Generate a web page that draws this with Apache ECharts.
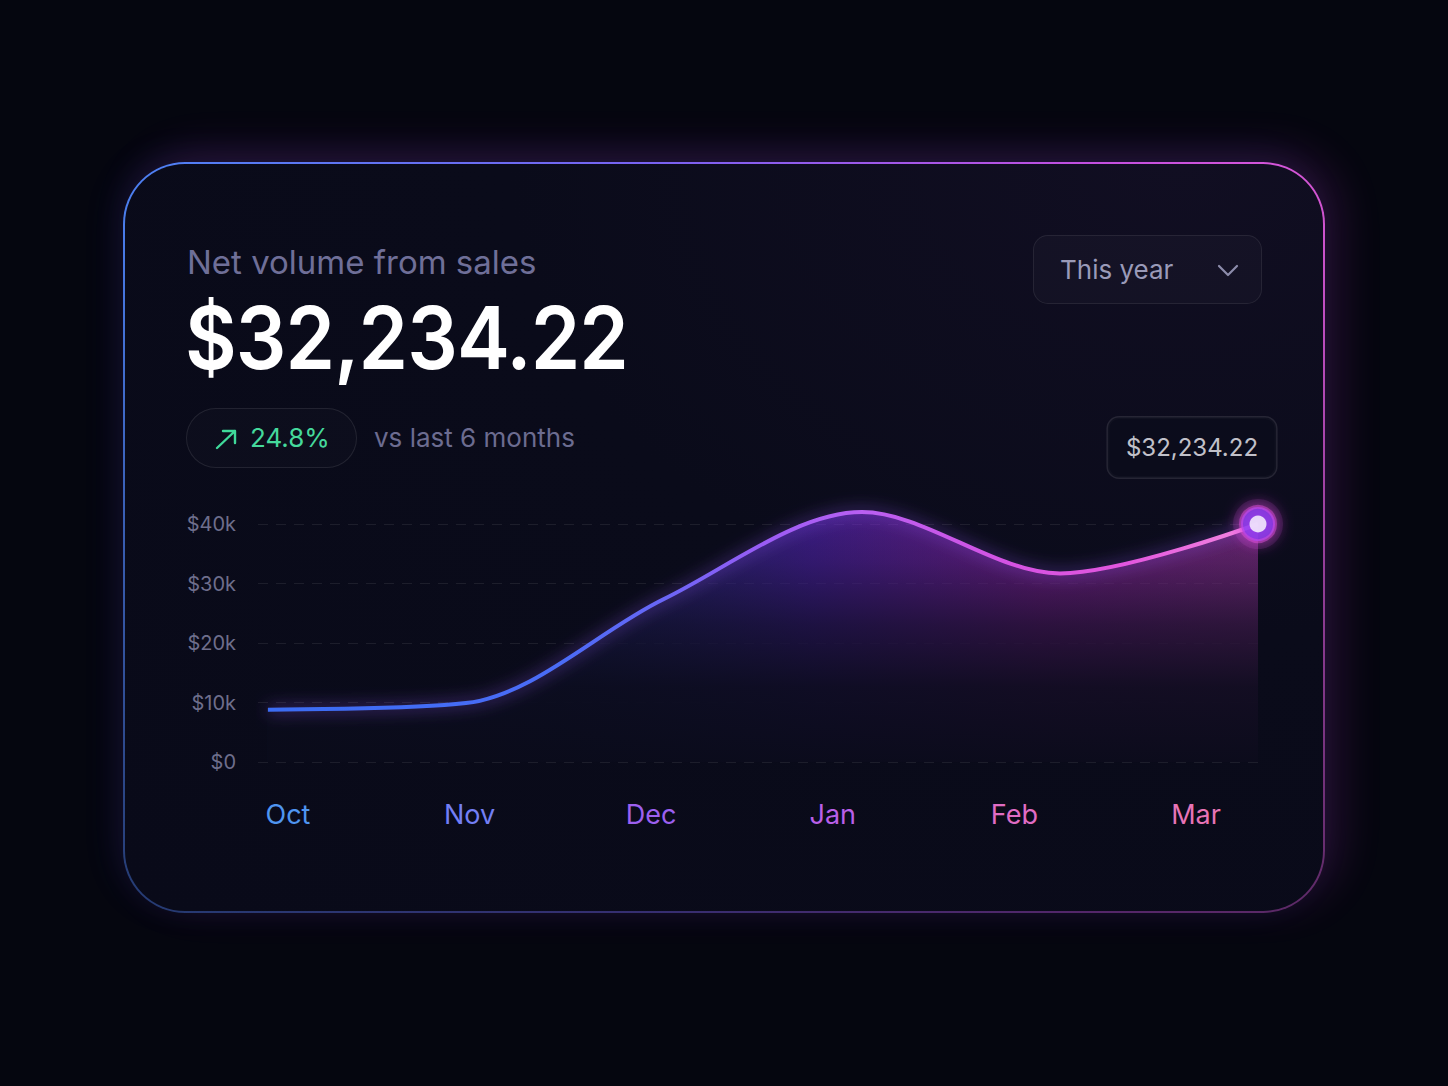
<!DOCTYPE html>
<html>
<head>
<meta charset="utf-8">
<title>Net volume from sales</title>
<script src="https://cdn.jsdelivr.net/npm/echarts@6/dist/echarts.min.js"></script>
<style>
  html, body { margin: 0; padding: 0; background: #05060f; }
  body { width: 1448px; height: 1086px; position: relative; overflow: hidden; font-family: Inter, "Noto Sans", sans-serif; }
  .card {
    position: absolute; left: 123px; top: 162px; width: 1202px; height: 751px;
    border-radius: 62px; padding: 2px; box-sizing: border-box;
    background:
      linear-gradient(180deg, rgba(10,11,26,0) 0%, rgba(10,11,26,0.25) 40%, rgba(10,11,26,0.6) 100%),
      linear-gradient(90deg, #4d82f5 0%, #7a62f2 45%, #c24fe0 80%, #d957d8 100%);
    box-shadow: -8px -6px 36px rgba(70,110,255,0.08), 14px -10px 44px rgba(220,70,230,0.16);
  }
  .card-inner {
    width: 100%; height: 100%; border-radius: 60px;
    background: radial-gradient(ellipse at 88% 0%, #110e22 0%, #0a0b1a 45%, #090a19 100%);
  }
  .txt { position: absolute; white-space: nowrap; }
  #chart { position: absolute; left: 0; top: 0; width: 1448px; height: 1086px; }
</style>
</head>
<body>
<div class="card"><div class="card-inner"></div></div>

<div class="txt" style="left:187px; top:246px; font-size:33px; line-height:33px; color:#6f6f98;">Net volume from sales</div>
<div class="txt" style="left:185px; top:295px; font-size:86px; line-height:86px; font-weight:600; color:#ffffff; letter-spacing:-1px; transform:scaleX(0.925); transform-origin:left center;">$32,234.22</div>

<div style="position:absolute; left:186px; top:408px; width:171px; height:60px; box-sizing:border-box; border:1.5px solid rgba(255,255,255,0.09); border-radius:30px; background:rgba(255,255,255,0.015);"></div>
<svg style="position:absolute; left:212px; top:426px;" width="28" height="26" viewBox="0 0 28 26">
  <path d="M5 22 L23 5 M11 5 L23 5 L23 17" fill="none" stroke="#3fd99a" stroke-width="2.4" stroke-linecap="round" stroke-linejoin="round"/>
</svg>
<div class="txt" style="left:250px; top:425px; font-size:26px; line-height:26px; color:#45d99c;">24.8%</div>
<div class="txt" style="left:374px; top:425px; font-size:26px; line-height:26px; color:#6c6c90;">vs last 6 months</div>

<div style="position:absolute; left:1033px; top:235px; width:229px; height:69px; box-sizing:border-box; border:1.5px solid rgba(255,255,255,0.08); border-radius:15px; background:rgba(255,255,255,0.025);"></div>
<div class="txt" style="left:1060px; top:257px; font-size:26px; line-height:26px; color:#9a9ab8;">This year</div>
<svg style="position:absolute; left:1215px; top:260px;" width="26" height="20" viewBox="0 0 26 20">
  <path d="M4 6 L13 15 L22 6" fill="none" stroke="#8c8cab" stroke-width="2.2" stroke-linecap="round" stroke-linejoin="round"/>
</svg>

<div id="chart"></div>

<script>
const months = ['Oct', 'Nov', 'Dec', 'Jan', 'Feb', 'Mar'];
const volume = [8800, 9900, 27400, 42000, 31700, 40000];
const yTicks = [0, 10000, 20000, 30000, 40000];
const highlightLabel = '$32,234.22';

const monthColors = ['#4f95f0', '#737ff4', '#9c60f0', '#b95fe8', '#e06cc4', '#e874b6'];

const points = months.map((m, i) => [i, volume[i]]);
const lastIndex = months.length - 1;
const lastPoint = [[lastIndex, volume[lastIndex]]];

const chart = echarts.init(document.getElementById('chart'), null, { renderer: 'svg' });

function grad(x2, y2, stops) {
  return new echarts.graphic.LinearGradient(0, 0, x2, y2, stops.map(s => ({ offset: s[0], color: s[1] })));
}

const smoothness = 0.32;

chart.setOption({
  backgroundColor: 'transparent',
  animation: false,
  grid: [
    { left: 258, right: 190, top: 524, bottom: 324 },
    { left: 288, right: 252, top: 524, bottom: 324 }
  ],
  xAxis: [
    { type: 'value', gridIndex: 0, min: -0.05, max: lastIndex, show: false },
    {
      type: 'category', gridIndex: 1, data: months, boundaryGap: false,
      axisLine: { show: false }, axisTick: { show: false }, splitLine: { show: false },
      axisLabel: {
        margin: 39, fontSize: 27, fontFamily: 'Inter',
        color: (v, i) => monthColors[i]
      }
    }
  ],
  yAxis: [
    {
      type: 'value', gridIndex: 0, min: yTicks[0], max: yTicks[yTicks.length - 1], interval: 10000,
      axisLine: { show: false }, axisTick: { show: false },
      axisLabel: {
        margin: 22, fontSize: 20, fontFamily: 'Inter', color: '#6e6e8c',
        formatter: v => v === 0 ? '$0' : '$' + (v / 1000) + 'k'
      },
      splitLine: { lineStyle: { color: 'rgba(255,255,255,0.08)', type: [10, 8], width: 1.2 } }
    },
    { type: 'value', gridIndex: 1, show: false }
  ],
  series: [
    {
      type: 'line', xAxisIndex: 0, yAxisIndex: 0, data: points, smooth: smoothness,
      symbol: 'none', clip: false, z: 1, silent: true,
      lineStyle: { width: 0 },
      areaStyle: {
        opacity: 1,
        color: grad(1, 0, [
          [0, 'rgba(60,110,245,0.08)'],
          [0.3, 'rgba(75,85,245,0.25)'],
          [0.55, 'rgba(110,45,235,0.5)'],
          [0.78, 'rgba(190,45,215,0.5)'],
          [1, 'rgba(215,70,215,0.45)']
        ])
      }
    },
    {
      type: 'line', xAxisIndex: 0, yAxisIndex: 0, data: points, smooth: smoothness,
      symbol: 'none', clip: false, z: 2, silent: true,
      lineStyle: { width: 0 },
      areaStyle: {
        opacity: 1,
        color: grad(0, 1, [
          [0, 'rgba(10,11,26,0)'],
          [0.2, 'rgba(10,11,26,0.2)'],
          [0.45, 'rgba(10,11,26,0.62)'],
          [0.7, 'rgba(10,11,26,0.9)'],
          [1, 'rgba(10,11,26,0.98)']
        ])
      }
    },
    {
      type: 'line', xAxisIndex: 0, yAxisIndex: 0, data: points, smooth: smoothness,
      symbol: 'none', clip: false, z: 3,
      lineStyle: {
        width: 4,
        color: grad(1, 0, [
          [0, '#3a6df4'],
          [0.3, '#4b6cf6'],
          [0.4, '#6a66f6'],
          [0.5, '#9a5cf5'],
          [0.6, '#b95ff2'],
          [0.75, '#d552e2'],
          [0.87, '#e357df'],
          [1, '#f58ae0']
        ]),
        shadowBlur: 16, shadowColor: 'rgba(150,90,250,0.75)'
      }
    },
    {
      type: 'scatter', xAxisIndex: 0, yAxisIndex: 0, data: lastPoint, z: 4, silent: true,
      symbolSize: 50,
      itemStyle: { color: 'rgba(215,70,225,0.16)', shadowBlur: 14, shadowColor: 'rgba(220,70,230,0.5)' }
    },
    {
      type: 'scatter', xAxisIndex: 0, yAxisIndex: 0, data: lastPoint, z: 5, silent: true,
      symbolSize: 34,
      itemStyle: {
        color: '#8a3cf3', borderColor: 'rgba(226,80,220,0.6)', borderWidth: 4,
        shadowBlur: 16, shadowColor: 'rgba(220,70,230,0.8)'
      }
    },
    {
      type: 'scatter', xAxisIndex: 0, yAxisIndex: 0, data: lastPoint, z: 6, silent: true,
      symbolSize: 17,
      itemStyle: { color: '#ffffff' },
      label: {
        show: true, position: 'top', distance: 38, offset: [-66, 0],
        formatter: () => highlightLabel,
        fontSize: 24, lineHeight: 26, fontFamily: 'Inter', color: '#f4f4fa',
        backgroundColor: '#0b0c1c', borderColor: 'rgba(255,255,255,0.13)', borderWidth: 1.5,
        borderRadius: 11, padding: [17, 18]
      }
    }
  ]
});
</script>
</body>
</html>
